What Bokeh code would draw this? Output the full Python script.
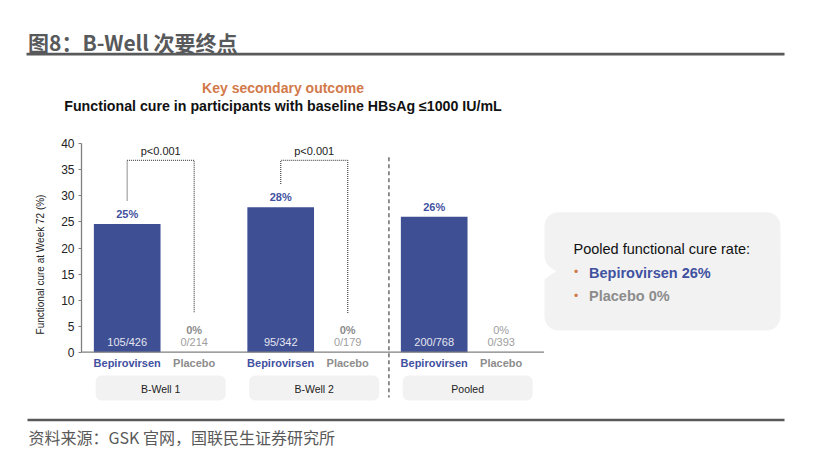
from bokeh.plotting import figure
from bokeh.layouts import column
from bokeh.models import Range1d, FixedTicker
from bokeh.core.properties import value
from bokeh.embed import file_html
from bokeh.resources import INLINE

# ---------------- data ----------------
groups = ["B-Well 1", "B-Well 2", "Pooled"]
arms = ["Bepirovirsen", "Placebo"]
bep_rate = [24.6, 27.8, 26.0]          # functional cure at week 72 (%)
pla_rate = [0.0, 0.0, 0.0]
bep_n = [105, 95, 200]
bep_N = [426, 342, 768]
pla_n = [0, 0, 0]
pla_N = [214, 179, 393]
p_values = ["p<0.001", "p<0.001", None]
y_ticks = [0, 5, 10, 15, 20, 25, 30, 35, 40]

title_text = "图8：B-Well 次要终点"
kicker_text = "Key secondary outcome"
subtitle_text = "Functional cure in participants with baseline HBsAg ≤1000 IU/mL"
callout_head = "Pooled functional cure rate:"
source_text = "资料来源：GSK 官网，国联民生证券研究所"

# ---------------- layout ----------------
W = 818
HEAD_H, CHART_H, FOOT_H = 118, 292, 52
CHART_TOP = HEAD_H
LEFT = 81                      # chart left panel (y axis)
SLOT = 67.0                    # px per arm slot
GSTEP = 153.5 / SLOT           # group spacing in slot units
Y_PX = 208.4 / 40.0            # px per percentage point
X_ORIGIN_PAGE = 126.7          # page x of first bar centre
Y_ORIGIN_PAGE = 351.7          # page y of value 0


def dx(px):
    return (px - X_ORIGIN_PAGE) / SLOT


def dy(py):
    return (Y_ORIGIN_PAGE - py) / Y_PX


BAR = "#3F4F94"
BLUE = "#3F51A0"
GREY = "#8C8C8C"
LGREY = "#9E9E9E"
ORANGE = "#D2794A"
BOXBG = "#F2F2F2"
DARK = "#58595B"
EN = value("Liberation Sans")
CJK = value("Noto Sans CJK SC")


def no_align(f):
    try:
        f.frame_align = False
    except (AttributeError, ValueError):
        pass
    return f


def plain(height, y_top):
    f = figure(width=W, height=height, output_backend="svg", toolbar_location=None,
               x_range=Range1d(0, W), y_range=Range1d(y_top + height, y_top),
               x_axis_location=None, y_axis_location=None, min_border=0)
    f.grid.visible = False
    f.outline_line_color = None
    return no_align(f)


# ---------------- header ----------------
hd = plain(HEAD_H, 0)
hd.text(x=[27.5], y=[41], text=[title_text], text_font=CJK, text_font_style="bold",
        text_font_size="21px", text_color=DARK, text_baseline="middle")
hd.quad(left=[26], right=[784], top=[52.2], bottom=[55], fill_color=DARK, line_color=None)
hd.text(x=[282.5], y=[87.5], text=[kicker_text], text_font=EN, text_font_style="bold",
        text_font_size="14px", text_color=ORANGE, text_align="center", text_baseline="middle")
hd.text(x=[282.5], y=[105], text=[subtitle_text], text_font=EN, text_font_style="bold",
        text_font_size="14.2px", text_color="#111111", text_align="center", text_baseline="middle")

# ---------------- chart ----------------
X0, X1 = dx(LEFT), dx(W)
Y0, Y1 = dy(CHART_TOP + CHART_H), dy(CHART_TOP)

p = figure(width=W, height=CHART_H, output_backend="svg", toolbar_location=None,
           x_range=Range1d(X0, X1), y_range=Range1d(Y0, Y1),
           x_axis_location=None, min_border_left=LEFT, min_border_right=0,
           min_border_top=0, min_border_bottom=0)
no_align(p)
p.grid.visible = False
p.outline_line_color = None

ax = p.yaxis[0]
ax.ticker = FixedTicker(ticks=y_ticks)
ax.bounds = (y_ticks[0], y_ticks[-1])
ax.major_label_text_font = "Liberation Sans"
ax.major_label_text_font_size = "12px"
ax.major_label_text_color = "#222222"
ax.major_label_standoff = 4
ax.major_tick_out = 3
ax.major_tick_in = 0
ax.minor_tick_out = 0
ax.minor_tick_in = 0
ax.axis_line_color = "#7F7F7F"
ax.axis_line_width = 1.3
ax.major_tick_line_color = "#7F7F7F"
ax.axis_label = "Functional cure at Week 72 (%)"
ax.axis_label_text_font = "Liberation Sans"
ax.axis_label_text_font_size = "10px"
ax.axis_label_text_font_style = "normal"
ax.axis_label_text_color = "#222222"
ax.axis_label_standoff = 12

bep_x = [g * GSTEP for g in range(len(groups))]
pla_x = [g * GSTEP + 1 for g in range(len(groups))]
grp_x = [g * GSTEP + 0.5 for g in range(len(groups))]

# group boxes
p.quad(left=[x - 0.97 for x in grp_x], right=[x + 0.97 for x in grp_x],
       top=dy(375), bottom=dy(400), fill_color=BOXBG, line_color=None,
       border_radius=6)
p.text(x=grp_x, y=dy(388), text=groups, text_font=EN, text_font_size="10.5px",
       text_color="#222222", text_align="center", text_baseline="middle")

# bars
p.vbar(x=bep_x, top=bep_rate, bottom=0, width=0.995, fill_color=BAR, line_color=None)
p.vbar(x=pla_x, top=pla_rate, bottom=0, width=0.995, fill_color=BAR, line_color=None)

# baseline
p.segment(x0=[X0], y0=[0], x1=[pla_x[-1] + 0.64], y1=[0], line_color="#7F7F7F", line_width=1.3)

# value labels
p.text(x=bep_x, y=bep_rate, text=[f"{round(v)}%" for v in bep_rate], y_offset=-10,
       text_font=EN, text_font_style="bold", text_font_size="11px", text_color=BLUE,
       text_align="center", text_baseline="middle")
p.text(x=bep_x, y=[0] * 3, text=[f"{a}/{b}" for a, b in zip(bep_n, bep_N)], y_offset=-10,
       text_font=EN, text_font_size="11px", text_color="#E4E6F0",
       text_align="center", text_baseline="middle")
pla_style = ["bold", "bold", "normal"]
pla_col = [GREY, GREY, LGREY]
for i in range(len(groups)):
    p.text(x=[pla_x[i]], y=[pla_rate[i]], text=[f"{round(pla_rate[i])}%"], y_offset=-22,
           text_font=EN, text_font_style=pla_style[i], text_font_size="11px",
           text_color=pla_col[i], text_align="center", text_baseline="middle")
p.text(x=pla_x, y=[0] * 3, text=[f"{a}/{b}" for a, b in zip(pla_n, pla_N)], y_offset=-10,
       text_font=EN, text_font_size="11px", text_color=LGREY,
       text_align="center", text_baseline="middle")

# arm labels
p.text(x=bep_x, y=[0] * 3, text=[arms[0]] * 3, y_offset=10.5, text_font=EN,
       text_font_style="bold", text_font_size="11px", text_color=BLUE,
       text_align="center", text_baseline="middle")
p.text(x=pla_x, y=[0] * 3, text=[arms[1]] * 3, y_offset=10.5, text_font=EN,
       text_font_style="bold", text_font_size="11px", text_color=GREY,
       text_align="center", text_baseline="middle")

# significance brackets
for i, pv in enumerate(p_values):
    if pv is None:
        continue
    p.line(x=[bep_x[i], bep_x[i], pla_x[i], pla_x[i]],
           y=[bep_rate[i] + 4.5, 36.8, 36.8, 7.5],
           line_color="#555555", line_width=1.3, line_dash="1 1")
    p.text(x=[(bep_x[i] + pla_x[i]) / 2], y=[38.7], text=[pv], text_font=EN,
           text_font_size="11px", text_color="#222222", text_align="center",
           text_baseline="middle")

# separator before pooled
sep_x = (pla_x[1] + bep_x[2]) / 2 - 0.03
p.segment(x0=[sep_x], y0=[37.4], x1=[sep_x], y1=[dy(397)], line_color="#555555",
          line_width=1.3, line_dash="4 3")

# callout
p.quad(left=[dx(544)], right=[dx(780)], top=[dy(211.7)], bottom=[dy(330)],
       fill_color=BOXBG, line_color=None, border_radius=14)
notch_px = [538, 544, 545.6, 548.5, 552, 556, 553, 549, 544, 538]
notch_py = [256, 257, 262, 266, 268.5, 270.5, 272.5, 275, 279, 280]
p.patch(x=[dx(v) for v in notch_px], y=[dy(v) for v in notch_py],
        fill_color="white", line_color=None)
p.text(x=[dx(573)], y=[dy(248.5)], text=[callout_head], text_font=EN,
       text_font_size="14.5px", text_color="#111111", text_baseline="middle")
p.text(x=[dx(575.5)] * 2, y=[dy(271.5), dy(295)], text=["•", "•"], text_font=EN,
       text_font_size="12px", text_color=ORANGE, text_align="center", text_baseline="middle")
p.text(x=[dx(588.5)], y=[dy(272)], text=[f"{arms[0]} {round(bep_rate[-1])}%"], text_font=EN,
       text_font_style="bold", text_font_size="14.5px", text_color=BLUE, text_baseline="middle")
p.text(x=[dx(588.5)], y=[dy(295.5)], text=[f"{arms[1]} {round(pla_rate[-1])}%"], text_font=EN,
       text_font_style="bold", text_font_size="14.5px", text_color=GREY, text_baseline="middle")

# ---------------- footer ----------------
FOOT_TOP = CHART_TOP + CHART_H
ft = plain(FOOT_H, FOOT_TOP)
ft.quad(left=[27], right=[784], top=[418.3], bottom=[420.8], fill_color=DARK, line_color=None)
ft.text(x=[28], y=[436.5], text=[source_text], text_font=CJK, text_font_size="16px",
        text_color="#595959", text_baseline="middle")

layout = column(hd, p, ft, spacing=0)
open("out.html", "w").write(file_html(layout, INLINE))
